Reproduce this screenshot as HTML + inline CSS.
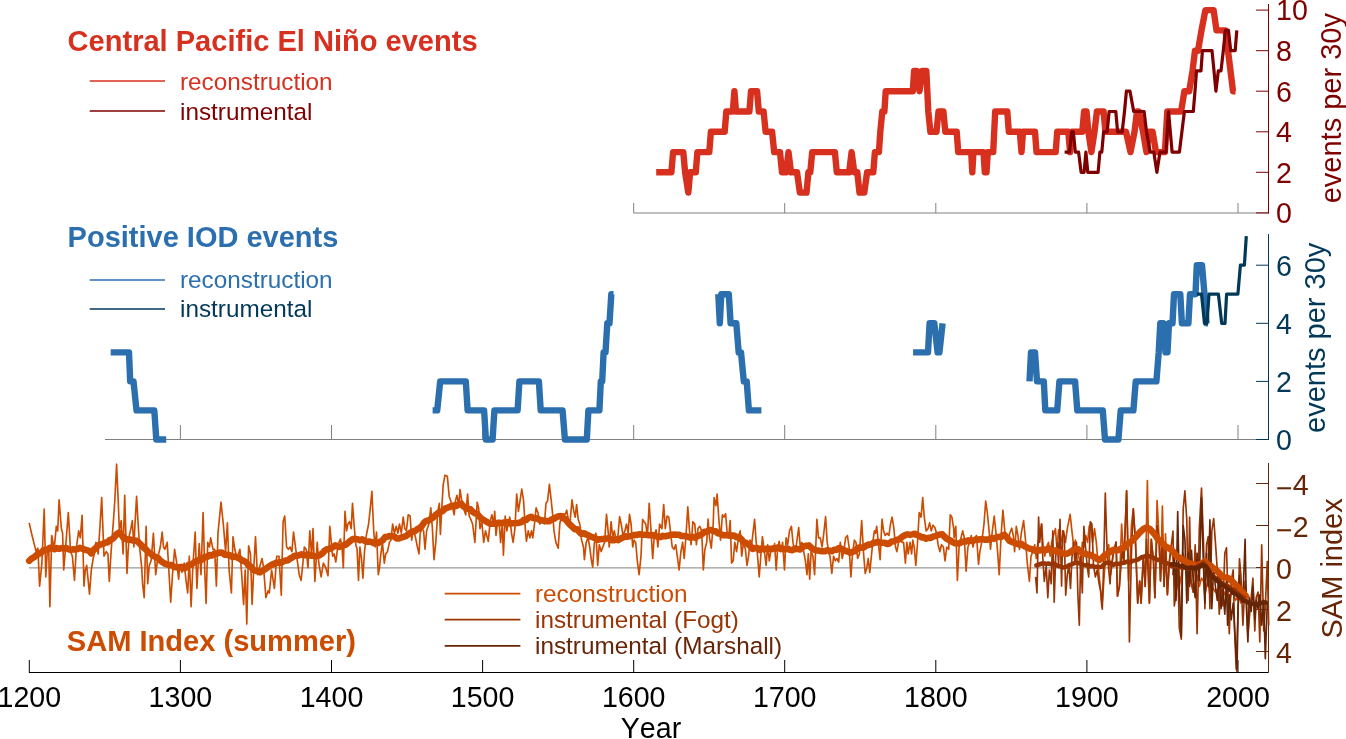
<!DOCTYPE html>
<html><head><meta charset="utf-8"><style>
html,body{margin:0;padding:0;background:#fff;width:1346px;height:739px;overflow:hidden}
svg{display:block;will-change:transform} text{font-kerning:none}
</style></head><body>
<svg width="1346" height="739" viewBox="0 0 1346 739">
<line x1="633.5" y1="213" x2="1268.5" y2="213" stroke="#808080" stroke-width="1"/>
<line x1="633.7" y1="203" x2="633.7" y2="213" stroke="#808080" stroke-width="1"/>
<line x1="784.7" y1="203" x2="784.7" y2="213" stroke="#808080" stroke-width="1"/>
<line x1="935.8" y1="203" x2="935.8" y2="213" stroke="#808080" stroke-width="1"/>
<line x1="1086.9" y1="203" x2="1086.9" y2="213" stroke="#808080" stroke-width="1"/>
<line x1="1238.0" y1="203" x2="1238.0" y2="213" stroke="#808080" stroke-width="1"/>
<line x1="1268.5" y1="4" x2="1268.5" y2="213.5" stroke="#7f0000" stroke-width="1"/>
<line x1="1256" y1="212.9" x2="1268.5" y2="212.9" stroke="#7f0000" stroke-width="1"/>
<text x="1276" y="223.2" font-family="Liberation Sans, sans-serif" font-size="28.6" fill="#7f0000">0</text>
<line x1="1256" y1="172.3" x2="1268.5" y2="172.3" stroke="#7f0000" stroke-width="1"/>
<text x="1276" y="182.6" font-family="Liberation Sans, sans-serif" font-size="28.6" fill="#7f0000">2</text>
<line x1="1256" y1="131.8" x2="1268.5" y2="131.8" stroke="#7f0000" stroke-width="1"/>
<text x="1276" y="142.1" font-family="Liberation Sans, sans-serif" font-size="28.6" fill="#7f0000">4</text>
<line x1="1256" y1="91.2" x2="1268.5" y2="91.2" stroke="#7f0000" stroke-width="1"/>
<text x="1276" y="101.5" font-family="Liberation Sans, sans-serif" font-size="28.6" fill="#7f0000">6</text>
<line x1="1256" y1="50.7" x2="1268.5" y2="50.7" stroke="#7f0000" stroke-width="1"/>
<text x="1276" y="61.0" font-family="Liberation Sans, sans-serif" font-size="28.6" fill="#7f0000">8</text>
<line x1="1256" y1="10.1" x2="1268.5" y2="10.1" stroke="#7f0000" stroke-width="1"/>
<text x="1276" y="20.4" font-family="Liberation Sans, sans-serif" font-size="28.6" fill="#7f0000">10</text>
<text transform="translate(1341.3,108.2) rotate(-90)" text-anchor="middle" font-family="Liberation Sans, sans-serif" font-size="29" fill="#7f0000">events per 30y</text>
<line x1="105" y1="439.5" x2="1268.5" y2="439.5" stroke="#808080" stroke-width="1"/>
<line x1="180.4" y1="425" x2="180.4" y2="439.5" stroke="#808080" stroke-width="1"/>
<line x1="331.5" y1="425" x2="331.5" y2="439.5" stroke="#808080" stroke-width="1"/>
<line x1="482.6" y1="425" x2="482.6" y2="439.5" stroke="#808080" stroke-width="1"/>
<line x1="633.7" y1="425" x2="633.7" y2="439.5" stroke="#808080" stroke-width="1"/>
<line x1="784.7" y1="425" x2="784.7" y2="439.5" stroke="#808080" stroke-width="1"/>
<line x1="935.8" y1="425" x2="935.8" y2="439.5" stroke="#808080" stroke-width="1"/>
<line x1="1086.9" y1="425" x2="1086.9" y2="439.5" stroke="#808080" stroke-width="1"/>
<line x1="1238.0" y1="425" x2="1238.0" y2="439.5" stroke="#808080" stroke-width="1"/>
<line x1="1268.5" y1="234" x2="1268.5" y2="440" stroke="#023858" stroke-width="1"/>
<line x1="1256" y1="439.5" x2="1268.5" y2="439.5" stroke="#023858" stroke-width="1"/>
<text x="1276" y="449.8" font-family="Liberation Sans, sans-serif" font-size="28.6" fill="#023858">0</text>
<line x1="1256" y1="381.4" x2="1268.5" y2="381.4" stroke="#023858" stroke-width="1"/>
<text x="1276" y="391.7" font-family="Liberation Sans, sans-serif" font-size="28.6" fill="#023858">2</text>
<line x1="1256" y1="323.3" x2="1268.5" y2="323.3" stroke="#023858" stroke-width="1"/>
<text x="1276" y="333.6" font-family="Liberation Sans, sans-serif" font-size="28.6" fill="#023858">4</text>
<line x1="1256" y1="265.2" x2="1268.5" y2="265.2" stroke="#023858" stroke-width="1"/>
<text x="1276" y="275.5" font-family="Liberation Sans, sans-serif" font-size="28.6" fill="#023858">6</text>
<text transform="translate(1325,337.8) rotate(-90)" text-anchor="middle" font-family="Liberation Sans, sans-serif" font-size="29" fill="#023858">events per 30y</text>
<line x1="29" y1="567.9" x2="1268.5" y2="567.9" stroke="#999999" stroke-width="1.3"/>
<line x1="1268.5" y1="463" x2="1268.5" y2="672.5" stroke="#662506" stroke-width="1"/>
<line x1="1256" y1="483.5" x2="1268.5" y2="483.5" stroke="#662506" stroke-width="1"/>
<text x="1276" y="494.5" font-family="Liberation Sans, sans-serif" font-size="28.6" fill="#662506"><tspan dy="3.4">−</tspan><tspan dy="-3.4">4</tspan></text>
<line x1="1256" y1="525.5" x2="1268.5" y2="525.5" stroke="#662506" stroke-width="1"/>
<text x="1276" y="536.5" font-family="Liberation Sans, sans-serif" font-size="28.6" fill="#662506"><tspan dy="3.4">−</tspan><tspan dy="-3.4">2</tspan></text>
<line x1="1256" y1="567.5" x2="1268.5" y2="567.5" stroke="#662506" stroke-width="1"/>
<text x="1276" y="578.5" font-family="Liberation Sans, sans-serif" font-size="28.6" fill="#662506">0</text>
<line x1="1256" y1="609.5" x2="1268.5" y2="609.5" stroke="#662506" stroke-width="1"/>
<text x="1276" y="620.5" font-family="Liberation Sans, sans-serif" font-size="28.6" fill="#662506">2</text>
<line x1="1256" y1="651.5" x2="1268.5" y2="651.5" stroke="#662506" stroke-width="1"/>
<text x="1276" y="662.5" font-family="Liberation Sans, sans-serif" font-size="28.6" fill="#662506">4</text>
<text transform="translate(1341.5,568.4) rotate(-90)" text-anchor="middle" font-family="Liberation Sans, sans-serif" font-size="29" fill="#662506">SAM index</text>
<line x1="29" y1="672.5" x2="1268.5" y2="672.5" stroke="#000" stroke-width="1"/>
<line x1="29.3" y1="660" x2="29.3" y2="672.5" stroke="#000" stroke-width="1"/>
<text x="29.3" y="706.7" text-anchor="middle" font-family="Liberation Sans, sans-serif" font-size="28.6" fill="#000">1200</text>
<line x1="180.4" y1="660" x2="180.4" y2="672.5" stroke="#000" stroke-width="1"/>
<text x="180.4" y="706.7" text-anchor="middle" font-family="Liberation Sans, sans-serif" font-size="28.6" fill="#000">1300</text>
<line x1="331.5" y1="660" x2="331.5" y2="672.5" stroke="#000" stroke-width="1"/>
<text x="331.5" y="706.7" text-anchor="middle" font-family="Liberation Sans, sans-serif" font-size="28.6" fill="#000">1400</text>
<line x1="482.6" y1="660" x2="482.6" y2="672.5" stroke="#000" stroke-width="1"/>
<text x="482.6" y="706.7" text-anchor="middle" font-family="Liberation Sans, sans-serif" font-size="28.6" fill="#000">1500</text>
<line x1="633.7" y1="660" x2="633.7" y2="672.5" stroke="#000" stroke-width="1"/>
<text x="633.7" y="706.7" text-anchor="middle" font-family="Liberation Sans, sans-serif" font-size="28.6" fill="#000">1600</text>
<line x1="784.7" y1="660" x2="784.7" y2="672.5" stroke="#000" stroke-width="1"/>
<text x="784.7" y="706.7" text-anchor="middle" font-family="Liberation Sans, sans-serif" font-size="28.6" fill="#000">1700</text>
<line x1="935.8" y1="660" x2="935.8" y2="672.5" stroke="#000" stroke-width="1"/>
<text x="935.8" y="706.7" text-anchor="middle" font-family="Liberation Sans, sans-serif" font-size="28.6" fill="#000">1800</text>
<line x1="1086.9" y1="660" x2="1086.9" y2="672.5" stroke="#000" stroke-width="1"/>
<text x="1086.9" y="706.7" text-anchor="middle" font-family="Liberation Sans, sans-serif" font-size="28.6" fill="#000">1900</text>
<line x1="1238.0" y1="660" x2="1238.0" y2="672.5" stroke="#000" stroke-width="1"/>
<text x="1238.0" y="706.7" text-anchor="middle" font-family="Liberation Sans, sans-serif" font-size="28.6" fill="#000">2000</text>
<text x="651" y="737.8" text-anchor="middle" font-family="Liberation Sans, sans-serif" font-size="28.6" fill="#000">Year</text>
<text x="67.6" y="51.2" font-family="Liberation Sans, sans-serif" font-weight="bold" font-size="30.3" textLength="410" lengthAdjust="spacingAndGlyphs" fill="#d7301f">Central Pacific El Niño events</text>
<line x1="89.7" y1="81" x2="165" y2="81" stroke="#d7301f" stroke-width="1.7"/>
<line x1="89.7" y1="111" x2="165" y2="111" stroke="#7f0000" stroke-width="1.7"/>
<text x="180" y="89.6" font-family="Liberation Sans, sans-serif" font-size="24.3" fill="#d7301f">reconstruction</text>
<text x="180" y="119.6" font-family="Liberation Sans, sans-serif" font-size="24.3" fill="#7f0000">instrumental</text>
<text x="67.6" y="247.2" font-family="Liberation Sans, sans-serif" font-weight="bold" font-size="30.3" textLength="270.7" lengthAdjust="spacingAndGlyphs" fill="#2b6fae">Positive IOD events</text>
<line x1="89.7" y1="280" x2="165" y2="280" stroke="#2b6fae" stroke-width="1.7"/>
<line x1="89.7" y1="309" x2="165" y2="309" stroke="#023858" stroke-width="1.7"/>
<text x="180" y="288.2" font-family="Liberation Sans, sans-serif" font-size="24.3" fill="#2b6fae">reconstruction</text>
<text x="180" y="316.7" font-family="Liberation Sans, sans-serif" font-size="24.3" fill="#023858">instrumental</text>
<text x="66.8" y="651.4" font-family="Liberation Sans, sans-serif" font-weight="bold" font-size="30.3" textLength="289.2" lengthAdjust="spacingAndGlyphs" fill="#cc4c02">SAM Index (summer)</text>
<line x1="444.7" y1="593.7" x2="520.4" y2="593.7" stroke="#cc4c02" stroke-width="1.7"/>
<line x1="444.7" y1="619.7" x2="520.4" y2="619.7" stroke="#993404" stroke-width="1.7"/>
<line x1="444.7" y1="645.9" x2="520.4" y2="645.9" stroke="#662506" stroke-width="1.7"/>
<text x="535" y="601.7" font-family="Liberation Sans, sans-serif" font-size="24.3" fill="#cc4c02">reconstruction</text>
<text x="535" y="627.7" font-family="Liberation Sans, sans-serif" font-size="24.3" fill="#993404">instrumental (Fogt)</text>
<text x="535" y="653.9" font-family="Liberation Sans, sans-serif" font-size="24.3" fill="#662506">instrumental (Marshall)</text>
<polyline points="656.2,172.3 671.4,172.3 673.1,152.1 683.3,152.1 685.1,172.3 688.3,192.6 690.1,172.3 695.8,172.3 697.4,152.1 709.3,152.1 710.9,131.8 724.7,131.8 726.3,111.5 732.8,111.5 734.4,91.2 736.0,111.5 749.4,111.5 751.0,91.2 757.1,91.2 758.8,111.5 763.6,111.5 765.6,131.8 772.1,131.8 774.2,152.1 780.0,152.1 782.0,172.3 786.0,172.3 788.5,152.1 791.0,172.3 797.0,172.3 799.9,192.6 806.5,192.6 808.4,172.3 810.3,172.3 812.2,152.1 834.9,152.1 836.8,172.3 849.1,172.3 851.6,152.1 854.3,172.3 857.3,172.3 859.5,192.6 864.3,192.6 867.1,172.3 873.3,172.3 874.9,152.1 878.9,152.1 880.3,131.8 882.3,111.5 884.4,111.5 885.7,91.2 912.8,91.2 914.1,70.9 916.8,70.9 919.5,91.2 922.2,70.9 926.3,70.9 927.3,91.2 928.3,111.5 930.4,131.8 936.5,131.8 938.5,111.5 943.4,111.5 945.3,131.8 956.7,131.8 958.2,152.1 971.2,152.1 972.3,172.3 973.4,152.1 983.5,152.1 984.8,172.3 986.5,172.3 987.8,152.1 993.2,152.1 994.2,131.8 995.2,111.5 1007.3,111.5 1008.8,131.8 1019.8,131.8 1021.5,152.1 1023.0,131.8 1035.0,131.8 1036.5,152.1 1055.7,152.1 1057.2,131.8 1068.3,131.8 1070.1,152.1 1071.9,131.8 1082.3,131.8 1084.1,111.5 1086.5,111.5 1088.4,131.8 1091.4,152.1 1094.5,131.8 1096.9,111.5 1103.6,111.5 1105.4,131.8 1126.0,131.8 1130.5,152.1 1134.5,131.8 1137.0,111.5 1139.0,111.5 1143.0,131.8 1146.5,152.1 1149.0,131.8 1152.6,131.8 1156.0,152.1 1160.0,152.1 1164.9,152.1 1167.3,111.5 1181.1,111.5 1184.4,91.2 1189.2,91.2 1192.5,70.9 1195.0,50.7 1198.0,50.7 1201.5,30.4 1205.4,10.1 1213.6,10.1 1216.5,30.4 1225.5,30.4 1228.0,50.7 1230.5,70.9 1233.0,91.2 1235.5,91.2" fill="none" stroke="#d7301f" stroke-width="6.4" stroke-linejoin="round" stroke-linecap="butt"/>
<polyline points="1064.6,152.1 1069.5,152.1 1071.7,131.8 1073.4,131.8 1075.3,152.1 1078.6,152.1 1081.1,172.3 1084.1,172.3 1085.9,152.1 1087.8,172.3 1098.1,172.3 1099.9,152.1 1101.8,152.1 1103.6,131.8 1107.2,131.8 1109.1,111.5 1115.8,111.5 1117.6,131.8 1122.2,131.8 1124.5,111.5 1126.4,91.2 1130.0,91.2 1133.7,111.5 1144.1,111.5 1146.5,131.8 1150.2,152.1 1153.8,152.1 1156.9,172.3 1160.0,152.1 1166.0,152.1 1168.5,111.5 1172.1,152.1 1179.4,152.1 1181.9,131.8 1184.4,111.5 1193.3,111.5 1195.0,91.2 1196.5,70.9 1201.0,70.9 1202.4,50.7 1212.0,50.7 1214.0,70.9 1215.9,91.2 1218.3,70.9 1221.0,70.9 1223.3,50.7 1225.4,30.4 1228.5,30.4 1230.7,50.7 1235.2,50.7 1236.8,30.4" fill="none" stroke="#7f0000" stroke-width="3.2" stroke-linejoin="round" stroke-linecap="butt"/>
<polyline points="110.7,352.4 129.0,352.4 130.2,381.4 133.5,381.4 136.5,410.4 154.3,410.4 156.3,439.5 166.2,439.5" fill="none" stroke="#2b6fae" stroke-width="6.4" stroke-linejoin="round" stroke-linecap="butt"/>
<polyline points="432.6,410.4 437.2,410.4 440.2,381.4 465.8,381.4 467.6,410.4 484.1,410.4 485.9,439.5 492.6,439.5 494.4,410.4 517.6,410.4 519.4,381.4 538.9,381.4 540.7,410.4 562.6,410.4 564.9,439.5 586.8,439.5 588.4,410.4 599.4,410.4 600.8,381.4 602.2,381.4 603.6,352.4 605.5,352.4 607.3,323.3 609.5,323.3 611.3,294.2 613.5,294.2" fill="none" stroke="#2b6fae" stroke-width="6.4" stroke-linejoin="round" stroke-linecap="butt"/>
<polyline points="718.3,294.2 719.8,323.3 721.3,294.2 728.8,294.2 730.6,323.3 736.3,323.3 738.7,352.4 741.0,352.4 743.8,381.4 746.7,381.4 748.9,410.4 761.4,410.4" fill="none" stroke="#2b6fae" stroke-width="6.4" stroke-linejoin="round" stroke-linecap="butt"/>
<polyline points="913.1,352.4 928.0,352.4 929.6,323.3 934.3,323.3 937.6,352.4 939.4,352.4 942.6,323.3" fill="none" stroke="#2b6fae" stroke-width="6.4" stroke-linejoin="round" stroke-linecap="butt"/>
<polyline points="1029.5,381.4 1031.0,352.4 1035.0,352.4 1037.0,381.4 1043.8,381.4 1045.3,410.4 1057.2,410.4 1059.4,381.4 1075.1,381.4 1077.3,410.4 1102.8,410.4 1105.0,439.5 1118.4,439.5 1120.7,410.4 1133.4,410.4 1135.7,381.4 1156.4,381.4 1158.7,352.4 1160.3,323.3 1163.3,323.3 1165.5,352.4 1167.5,352.4 1169.0,323.3 1172.5,323.3 1174.0,294.2 1180.3,294.2 1181.9,323.3 1188.4,323.3 1190.0,294.2 1195.5,294.2 1196.8,265.2 1202.0,265.2 1204.5,294.2 1206.5,323.3 1208.0,323.3" fill="none" stroke="#2b6fae" stroke-width="6.4" stroke-linejoin="round" stroke-linecap="butt"/>
<polyline points="1196.9,294.2 1201.5,294.2 1204.5,323.3 1207.0,323.3 1209.0,294.2 1218.4,294.2 1221.7,323.3 1225.0,323.3 1226.6,294.2 1237.9,294.2 1240.4,265.2 1244.4,265.2 1246.3,236.2" fill="none" stroke="#023858" stroke-width="3.2" stroke-linejoin="round" stroke-linecap="butt"/>
<polyline points="29.2,522.9 31.5,533.2 33.8,542.4 36.1,551.6 37.9,548.2 39.6,586.1 41.9,563.1 44.2,509.1 45.8,576.9 47.1,553.9 48.8,551.6 49.9,606.8 51.7,535.5 53.4,544.7 54.5,545.9 56.3,526.3 57.7,530.9 59.1,499.9 61.4,528.6 62.6,533.2 63.7,570.0 66.0,542.4 68.3,512.5 70.6,551.6 72.4,556.2 74.5,580.4 76.4,547.0 78.7,530.9 80.3,537.8 82.1,515.3 84.0,586.1 85.3,570.0 86.7,565.4 89.5,594.2 91.3,570.0 93.2,558.5 94.8,551.6 95.9,542.4 98.2,553.9 100.1,524.0 101.7,497.6 104.0,556.2 106.3,551.6 107.9,553.9 109.3,581.5 111.1,551.6 113.2,524.0 114.8,501.0 116.6,464.2 118.2,501.0 119.4,530.9 121.2,520.6 123.1,553.9 124.7,495.3 127.0,573.5 128.1,551.6 129.3,535.5 130.9,528.6 132.3,520.6 133.9,547.0 135.0,524.0 136.6,496.4 138.0,521.7 139.6,547.0 141.5,565.4 142.6,583.8 144.2,597.6 146.1,526.3 147.7,583.8 149.3,565.4 151.1,560.8 153.4,533.2 155.7,574.6 158.0,556.2 160.3,547.0 162.2,532.1 163.5,547.0 164.9,549.3 167.2,542.4 169.1,574.6 170.7,602.2 172.5,574.6 174.6,549.3 176.4,560.8 178.7,579.2 179.6,565.4 181.9,572.3 184.2,563.1 186.0,580.4 187.7,593.0 189.3,556.2 191.1,606.8 192.9,565.4 195.2,532.1 196.9,588.4 199.2,543.6 201.0,574.6 203.1,512.5 204.9,574.6 206.1,603.4 207.7,542.4 209.5,547.0 210.7,537.8 213.0,549.3 214.6,549.3 216.4,586.1 218.0,533.2 221.0,502.2 223.3,524.0 225.6,551.6 227.4,522.9 229.1,570.0 231.4,593.0 233.0,536.7 234.8,549.3 237.1,558.5 239.9,549.3 241.7,574.6 243.6,604.5 245.2,570.0 246.8,624.1 248.6,545.9 250.5,553.9 252.1,604.5 253.7,570.0 255.5,536.7 257.4,574.6 260.1,565.4 262.0,558.5 263.6,567.7 265.9,597.6 268.2,590.7 269.3,593.0 271.6,570.0 274.4,588.4 276.7,556.2 279.0,556.2 281.3,595.3 283.1,521.7 284.7,516.0 286.6,547.0 288.4,549.3 290.0,547.0 291.9,551.6 293.5,532.1 295.8,549.3 299.2,574.6 301.1,580.4 302.9,563.1 304.3,547.0 306.1,549.3 308.0,567.7 309.8,530.9 311.6,556.2 313.0,528.6 314.9,581.5 317.2,542.4 318.8,563.1 321.1,576.9 323.4,563.1 325.7,567.7 328.0,575.8 329.8,526.3 332.6,556.2 334.1,553.9 335.8,562.0 338.1,544.7 340.4,539.0 342.0,547.0 343.3,567.7 345.0,511.4 346.6,530.9 347.9,524.0 349.6,521.7 351.2,528.6 352.5,503.3 354.2,526.3 355.8,544.7 357.1,549.3 358.5,580.4 359.9,547.0 361.5,558.5 362.9,578.1 364.5,551.6 366.3,535.5 368.6,524.0 370.3,507.9 371.9,491.3 373.7,530.9 375.1,547.0 376.5,532.1 378.3,574.6 379.5,567.7 380.6,556.2 382.4,542.4 384.3,563.1 385.7,553.9 387.5,551.6 389.4,542.4 391.0,540.1 392.6,524.0 394.4,533.2 396.3,526.3 397.9,533.2 399.5,524.0 401.3,533.2 403.2,517.1 404.8,528.6 406.4,530.9 408.2,514.8 410.1,516.0 411.7,540.1 413.3,528.6 415.6,537.8 417.4,547.0 419.0,553.9 420.2,533.2 422.0,528.6 423.6,530.9 425.0,549.3 426.6,530.9 428.9,524.0 430.8,507.9 432.4,528.6 434.0,559.7 435.8,542.4 437.7,512.5 439.3,503.3 440.4,534.4 441.8,507.9 443.2,484.9 445.0,475.2 447.3,476.2 449.2,496.4 450.8,501.0 451.9,504.5 454.2,514.8 455.4,501.0 457.0,495.3 458.8,505.6 460.0,489.5 461.6,499.9 463.4,507.9 465.7,514.8 467.6,494.1 469.2,516.0 470.8,519.4 472.6,524.0 474.9,542.4 477.2,502.2 478.6,507.9 480.0,528.6 481.8,521.7 483.7,542.4 485.5,530.9 488.3,541.3 490.1,521.7 491.9,514.8 493.7,524.0 494.7,511.4 496.0,535.5 497.7,521.7 499.3,524.0 500.6,542.4 502.3,524.0 503.4,555.1 505.2,516.0 506.9,530.9 508.5,521.7 509.8,517.1 511.5,533.2 513.1,542.4 514.9,528.6 516.7,494.1 518.4,511.4 520.0,501.0 521.8,489.0 523.6,501.0 525.3,528.6 526.4,541.3 528.2,530.9 529.9,537.8 531.5,530.9 532.8,537.8 534.5,524.0 536.1,507.9 537.9,512.5 539.8,524.0 541.4,521.7 543.0,521.7 544.4,524.0 546.0,503.3 547.6,501.0 549.4,484.4 551.3,501.0 552.9,517.1 554.0,530.9 555.9,542.4 558.2,548.2 559.8,524.0 561.4,516.0 563.2,513.7 565.1,514.8 566.7,510.2 568.3,519.4 570.1,521.7 572.0,499.9 573.6,510.2 575.2,517.1 576.6,504.5 578.2,519.4 579.8,524.0 581.6,540.1 583.5,547.0 584.4,559.7 586.2,542.4 588.1,537.8 589.7,547.0 591.3,559.7 592.7,567.3 594.3,543.6 595.9,533.2 597.7,565.4 599.3,544.7 601.2,551.6 602.8,547.0 604.6,542.4 606.5,514.4 608.1,530.9 609.2,547.0 611.1,521.7 612.7,537.8 614.3,530.9 616.1,540.1 618.0,535.5 619.6,516.7 621.2,524.0 623.0,535.5 624.9,530.9 626.5,524.0 628.1,533.2 629.5,514.4 631.1,524.0 632.7,547.0 634.1,540.1 635.7,542.4 637.3,560.8 639.1,574.6 641.0,556.2 642.6,519.4 644.1,521.7 645.8,524.0 647.4,536.7 649.2,503.3 651.0,530.9 652.7,558.5 654.3,535.5 656.1,529.8 657.9,547.0 659.6,524.0 661.9,528.6 663.7,504.5 665.3,528.6 667.1,516.0 668.8,517.1 670.4,530.9 672.2,547.0 674.0,549.3 675.7,544.7 677.3,556.2 679.1,570.0 680.9,551.6 682.6,542.4 684.2,558.5 686.0,535.5 687.8,506.8 689.5,530.9 691.1,544.7 692.9,521.7 694.8,524.0 696.4,544.7 698.0,528.6 699.8,526.3 701.7,530.9 703.3,570.0 704.9,549.3 706.7,542.4 708.1,519.0 709.5,537.8 711.3,548.2 713.2,524.0 714.1,497.6 715.9,505.6 717.1,494.1 718.7,517.1 720.5,540.1 722.4,514.8 724.0,517.1 725.6,513.7 727.0,530.9 728.6,537.8 730.2,520.6 731.6,563.1 733.2,560.8 734.8,542.4 736.6,551.6 738.5,537.8 740.1,530.9 741.7,556.2 743.5,542.4 745.4,549.3 747.0,565.4 748.6,556.2 750.0,540.1 751.6,544.7 754.6,519.4 756.2,542.4 757.8,558.5 759.2,576.9 760.8,556.2 762.4,536.7 764.2,549.3 766.1,565.4 767.7,544.7 769.3,560.8 771.1,549.3 773.0,551.6 774.6,543.6 776.2,570.0 777.6,549.3 779.2,541.3 780.8,551.6 782.6,542.4 784.5,570.0 786.1,537.8 787.7,544.7 789.5,530.9 791.4,526.3 793.0,542.4 794.6,551.6 796.4,544.7 798.7,527.5 800.1,544.7 801.9,542.4 803.7,551.6 805.4,560.8 807.0,574.6 808.3,553.9 809.7,579.2 811.1,551.6 812.9,556.2 814.6,574.6 816.9,519.4 818.5,537.8 820.3,537.8 822.1,547.0 823.8,533.2 825.6,516.7 827.2,542.4 829.0,553.9 830.0,556.2 831.8,573.5 833.6,556.2 835.3,560.8 836.9,558.5 838.7,562.0 840.3,542.4 842.2,558.5 843.8,551.6 845.6,537.8 847.4,535.5 849.1,547.0 850.9,576.9 852.5,553.9 854.4,540.1 856.0,542.4 857.6,558.5 859.4,553.9 861.7,520.6 863.6,553.9 865.2,573.5 866.8,567.7 868.2,558.5 869.8,572.3 871.4,556.2 872.8,542.4 874.4,530.9 875.5,533.2 876.7,526.3 878.3,542.4 880.1,559.7 882.0,519.0 883.6,530.9 885.2,535.5 887.0,533.2 888.9,535.5 890.5,524.0 892.1,517.1 893.9,528.6 895.5,547.0 896.9,551.6 898.5,542.4 900.4,537.8 902.0,542.4 903.6,542.4 905.4,563.1 906.8,542.4 908.2,553.9 910.0,542.4 911.6,553.9 912.8,540.1 914.2,547.0 915.8,565.4 917.4,544.7 919.2,512.5 921.1,517.1 922.7,497.6 924.3,517.1 926.1,530.9 928.0,528.6 929.6,522.9 931.2,530.9 933.0,525.2 934.9,527.5 936.5,533.2 938.1,544.7 939.9,551.6 941.5,544.7 943.4,547.0 945.0,560.8 946.8,547.0 948.7,549.3 950.3,514.8 951.9,517.1 953.7,528.6 954.1,537.8 955.8,526.3 957.4,580.4 959.2,544.7 961.0,537.8 962.7,530.9 964.3,537.8 966.1,571.2 967.9,547.0 969.6,542.4 971.2,535.5 973.0,547.0 974.8,537.8 976.5,535.5 978.5,564.3 979.9,551.6 981.7,542.4 984.0,524.0 985.7,501.0 987.3,512.5 989.1,530.9 990.5,549.3 992.1,533.2 994.2,516.0 996.0,533.2 997.6,551.6 999.2,574.6 1001.1,535.5 1002.9,510.2 1004.8,530.9 1006.4,535.5 1008.0,542.4 1009.8,533.2 1011.7,528.2 1013.3,535.5 1014.6,551.6 1016.3,526.3 1017.9,535.5 1019.5,549.3 1021.3,533.2 1023.6,520.6 1025.5,540.1 1027.3,563.1 1029.4,581.5 1031.0,556.2 1032.8,551.6 1034.7,544.7 1036.3,558.5 1037.9,542.4 1039.7,535.5 1041.6,524.0 1043.2,547.0 1044.8,556.2 1046.6,547.0 1048.5,542.4 1050.1,556.2 1051.7,542.4 1053.5,535.5 1055.4,528.6 1057.0,549.3 1058.6,529.8 1060.4,542.4 1062.0,537.8 1063.6,530.9 1065.5,542.4 1067.3,528.6 1068.7,521.7 1070.1,514.4 1071.9,530.9 1073.8,547.0 1075.4,540.1 1077.0,551.6 1078.8,556.2 1080.7,570.0 1082.3,542.4 1083.9,547.0 1085.7,535.5 1087.6,542.4 1089.2,526.3 1090.8,524.0 1092.6,542.4 1094.5,528.6 1096.3,542.4 1098.4,567.7 1100.0,583.8 1101.8,606.8 1103.0,593.0 1104.6,570.0 1106.4,551.6 1108.7,544.7 1110.5,575.4 1113.3,553.2 1116.1,542.1 1117.5,596.2 1119.4,586.5 1121.6,524.1 1123.9,561.5 1126.6,490.8 1128.6,581.0 1130.0,561.5 1131.4,525.5 1133.3,508.8 1135.5,542.1 1137.7,603.1 1139.7,581.0 1141.1,603.1 1143.3,556.0 1145.2,586.5 1147.4,480.5 1149.4,603.1 1151.3,539.3 1153.5,561.5 1154.9,597.6 1157.1,500.5 1159.1,539.3 1160.5,581.0 1162.4,506.1 1164.1,586.5 1165.5,533.8 1167.4,594.8 1169.4,561.5 1171.0,547.7 1173.0,558.8 1174.3,581.0 1176.0,594.8 1177.7,567.1 1179.3,586.5 1181.3,575.4 1183.2,553.2 1184.9,561.5 1186.8,575.4 1188.2,586.5 1189.6,561.5 1191.0,581.0 1193.2,592.1 1195.2,581.0 1197.1,575.4 1199.3,586.5 1201.5,578.2 1203.5,581.0 1204.9,594.8 1206.5,586.5 1208.2,581.0 1209.9,594.8 1211.8,586.5 1213.7,589.3 1215.4,592.1 1217.3,589.3 1219.3,600.4 1221.0,592.1 1222.9,597.6 1224.8,592.1 1226.5,597.6 1227.6,589.3 1229.3,600.4 1231.2,594.8 1233.2,592.1 1235.4,600.4 1237.0,597.6 1238.1,600.4 1239.5,597.6 1240.9,603.1 1242.9,600.4 1245.1,597.6" fill="none" stroke="#cc4c02" stroke-width="1.65" stroke-linejoin="round"/>
<polyline points="1035.6,576.9 1037.0,593.0 1038.6,517.1 1039.7,542.4 1041.6,524.0 1042.7,556.2 1044.3,581.5 1046.2,565.4 1047.8,597.6 1049.4,570.0 1051.2,583.8 1052.8,530.9 1054.2,602.2 1055.8,553.9 1057.4,542.4 1058.6,565.4 1060.0,519.4 1061.6,586.1 1062.7,530.9 1064.3,535.5 1065.7,595.3 1067.3,574.6 1068.9,565.4 1070.5,588.4 1071.9,558.5 1073.5,542.4 1074.9,563.1 1076.5,542.4 1077.9,595.3 1079.3,625.2 1080.7,556.2 1082.3,593.0 1083.9,526.3 1085.7,549.3 1087.1,565.4 1088.7,576.9 1090.3,521.7 1091.9,524.0 1093.5,565.4 1095.4,576.9 1097.2,570.0 1099.1,583.8 1100.7,590.7 1102.3,609.1 1103.7,563.1 1105.3,493.0 1106.9,544.7 1108.7,570.0 1110.1,583.8 1110.5,575.4 1113.3,553.2 1116.1,542.1 1117.5,596.2 1119.4,586.5 1122.2,550.4 1123.9,561.5 1126.6,490.8 1128.6,581.0 1129.4,642.0 1131.4,553.2 1133.3,508.8 1135.5,542.1 1137.7,603.1 1139.7,581.0 1141.1,603.1 1143.3,556.0 1145.2,586.5 1146.6,539.3 1149.4,603.1 1151.3,539.3 1153.5,561.5 1154.9,597.6 1157.1,525.5 1159.1,539.3 1160.5,581.0 1162.4,539.3 1164.1,586.5 1165.5,547.7 1167.4,594.8 1169.4,561.5 1171.0,547.7 1173.0,531.0 1174.3,605.9 1176.0,594.8 1177.7,567.1 1179.3,628.1 1181.3,639.2 1183.2,508.8 1184.9,490.8 1186.8,519.9 1188.2,600.4 1189.6,517.2 1191.0,581.0 1193.2,592.1 1195.2,544.9 1197.1,633.7 1199.3,528.3 1201.5,488.0 1203.5,542.1 1204.9,608.7 1206.5,544.9 1208.2,536.6 1209.9,608.7 1211.8,531.0 1213.7,518.5 1215.4,542.1 1217.3,569.9 1219.3,614.2 1221.0,575.4 1222.9,605.9 1224.8,553.2 1226.5,547.7 1227.6,586.5 1229.3,633.7 1231.2,581.0 1233.2,569.9 1234.5,628.1 1236.2,669.2 1237.9,614.2 1239.5,558.8 1240.9,575.4 1242.9,625.3 1245.1,581.0 1246.5,603.1 1247.9,636.4 1249.2,619.8 1251.2,597.6 1252.9,578.2 1254.8,630.9 1256.2,597.6 1258.1,592.1 1259.8,642.0 1261.7,544.9 1263.7,630.9 1265.3,605.9 1267.3,561.5 1268.7,625.3" fill="none" stroke="#993404" stroke-width="1.65" stroke-linejoin="round"/>
<polyline points="1173.0,575.4 1174.3,553.2 1176.0,600.4 1177.7,511.6 1179.3,586.5 1181.3,636.4 1183.2,525.5 1184.9,539.3 1186.8,603.1 1188.2,553.2 1189.6,586.5 1191.5,550.4 1193.2,581.0 1195.2,597.6 1197.1,553.2 1199.3,581.0 1201.5,497.7 1203.5,567.1 1204.9,603.1 1206.5,553.2 1208.2,586.5 1209.9,519.9 1211.8,608.7 1213.7,567.1 1215.4,586.5 1217.3,600.4 1219.3,575.4 1221.0,608.7 1222.9,589.3 1224.8,614.2 1226.5,581.0 1227.6,625.3 1229.3,594.8 1231.2,619.8 1233.2,603.1 1235.4,642.0 1237.0,671.1 1238.1,608.7 1239.5,575.4 1240.9,597.6 1242.9,600.4 1245.1,539.3 1246.5,608.7 1247.9,642.0 1249.2,597.6 1251.2,611.5 1252.9,586.5 1254.8,619.8 1256.2,600.4 1258.1,608.7 1259.8,594.8 1261.7,625.3 1263.7,600.4 1265.3,658.6 1267.3,603.1" fill="none" stroke="#662506" stroke-width="1.65" stroke-linejoin="round"/>
<polyline points="29.2,560.8 31.5,558.6 33.8,557.4 36.1,555.4 38.4,554.1 40.7,553.0 43.0,550.8 45.3,549.6 47.6,549.9 49.9,547.7 52.2,547.7 54.5,549.1 56.8,548.1 59.1,548.8 61.4,548.1 63.7,548.6 66.0,548.0 68.3,549.1 70.6,549.8 72.9,549.4 75.2,549.5 77.5,549.1 79.8,547.7 82.1,548.6 84.4,549.5 86.7,550.1 89.0,550.8 91.3,553.4 93.6,550.0 95.9,547.8 98.2,545.4 100.5,544.4 102.8,544.1 105.1,542.5 107.4,542.5 109.7,540.1 112.0,539.2 114.3,537.3 116.6,534.2 118.9,532.6 121.2,534.6 123.5,537.9 125.8,538.9 128.1,539.7 130.4,539.5 132.7,540.4 135.0,540.6 137.3,541.0 139.6,543.5 141.9,545.6 144.2,548.2 146.5,549.9 148.8,552.4 151.1,554.0 153.4,556.0 155.7,557.1 158.0,557.9 160.3,560.6 162.6,562.2 164.9,563.6 167.2,564.4 169.5,565.3 171.8,565.1 174.1,566.9 176.4,567.2 178.7,567.3 181.5,566.9 184.2,568.4 186.5,567.5 188.8,564.7 191.1,564.8 193.4,563.0 195.7,561.3 198.0,560.4 200.3,560.2 202.6,559.2 204.9,556.8 207.2,557.0 209.5,555.1 211.8,555.5 214.5,553.6 217.2,553.5 219.9,552.5 222.4,552.8 225.0,554.8 227.6,554.7 230.2,555.5 232.5,557.0 234.8,556.5 237.1,557.4 239.4,558.4 241.7,560.3 244.0,561.0 246.3,562.3 248.6,565.7 250.9,566.6 253.2,569.7 255.5,570.7 257.8,571.0 260.1,572.3 262.4,570.8 264.7,569.5 267.0,567.9 269.3,566.3 271.6,564.9 273.9,563.9 276.2,562.8 278.5,562.4 280.8,562.7 283.1,561.5 285.4,560.5 287.7,560.5 290.0,558.6 292.3,557.5 294.6,555.7 296.9,555.7 299.2,555.2 301.5,554.2 303.8,555.3 306.1,555.3 308.4,554.3 310.7,555.6 313.0,555.6 315.3,556.3 317.6,556.0 319.9,555.1 322.2,553.6 324.5,550.8 326.8,549.3 329.1,548.9 331.4,547.9 335.1,545.4 339.2,546.9 341.5,546.4 343.8,545.2 346.1,544.5 348.4,542.5 350.7,540.6 353.0,539.1 355.3,538.9 357.6,539.3 359.9,540.3 362.2,539.3 364.5,540.8 366.8,541.7 369.1,541.5 371.4,541.9 373.7,543.3 376.0,542.7 378.3,543.0 380.6,541.5 382.9,540.1 385.2,537.1 387.5,536.7 389.8,536.0 392.1,536.1 394.4,536.6 396.7,538.5 399.0,538.4 401.3,537.5 403.6,536.9 405.9,536.2 408.2,534.3 410.5,532.7 412.8,531.4 415.1,531.0 417.4,529.2 419.7,528.0 422.0,525.8 424.3,522.3 426.6,520.9 428.9,520.3 431.2,518.5 433.5,517.3 435.8,514.9 438.1,513.0 440.4,511.8 442.7,511.1 445.0,508.6 447.3,507.8 449.6,506.9 451.9,505.9 454.2,505.5 456.5,506.0 458.8,504.2 461.1,503.6 463.4,506.4 465.7,507.4 468.0,508.8 470.3,509.3 472.6,511.8 474.9,513.3 477.2,513.9 479.5,516.8 481.8,518.9 484.6,520.5 487.3,522.1 490.1,523.6 494.2,523.7 496.5,523.2 498.8,522.7 501.1,523.3 503.4,522.5 505.7,523.4 508.0,522.0 510.3,523.6 512.6,523.2 514.9,523.3 517.2,523.0 519.5,522.7 521.8,521.9 524.1,519.7 526.4,519.9 528.7,517.7 531.0,516.8 533.3,518.0 535.6,518.3 537.9,518.7 540.2,520.2 542.5,520.4 544.8,520.7 547.1,521.3 549.4,521.2 551.7,519.4 554.0,518.8 556.3,517.2 558.6,516.2 560.9,516.0 563.2,518.4 565.5,519.2 567.8,522.2 570.1,524.8 572.4,526.9 574.7,529.2 577.0,529.3 579.3,531.9 581.6,533.9 583.9,533.3 586.2,534.5 588.5,535.4 590.8,536.7 593.1,537.4 595.4,538.3 597.7,539.8 600.0,539.2 602.3,539.0 604.6,538.9 606.9,538.6 609.2,538.2 611.5,540.1 613.8,540.2 616.1,539.1 618.4,540.1 620.7,538.6 623.0,537.5 625.3,536.4 627.6,536.6 629.9,536.2 632.2,535.6 634.5,535.0 637.2,534.9 639.8,534.3 642.5,534.8 645.1,534.8 649.2,535.3 651.5,535.0 653.8,535.5 656.1,536.1 658.4,536.9 660.7,536.9 663.0,535.9 665.3,536.3 667.6,535.7 669.9,535.1 672.2,534.7 674.5,534.6 676.8,534.7 679.1,534.8 681.4,535.9 683.7,536.0 686.0,536.2 688.3,537.0 690.6,537.6 692.9,536.8 695.2,537.7 697.5,536.1 699.8,535.4 702.1,534.0 704.4,531.8 706.7,531.6 709.0,530.3 711.3,530.1 713.6,531.2 715.9,531.4 718.2,533.4 720.5,533.9 722.8,535.1 725.1,535.2 727.4,535.2 729.7,535.6 732.0,535.6 734.3,535.6 736.6,537.2 738.9,536.9 741.2,539.1 743.5,542.1 745.8,542.7 748.1,544.4 750.4,545.9 752.7,548.9 755.0,548.0 757.3,548.1 759.6,549.9 761.9,548.3 764.2,549.4 766.5,548.8 768.8,548.8 771.1,549.0 773.4,548.3 775.7,548.7 778.0,547.3 780.3,548.9 782.6,548.8 784.9,549.4 787.2,548.6 789.8,549.8 792.4,550.1 795.0,548.5 797.5,549.0 800.1,549.4 801.9,547.6 804.2,546.2 806.5,545.7 808.8,545.4 811.1,547.6 813.4,549.4 815.7,550.3 818.0,550.6 820.3,551.0 822.6,551.3 824.9,551.2 827.2,550.3 829.5,550.8 831.8,551.3 834.1,549.7 836.4,549.8 838.7,548.1 841.0,548.5 843.3,549.8 845.6,550.8 847.9,551.6 850.2,552.7 852.5,551.9 854.8,551.2 857.1,548.7 859.4,547.4 861.7,547.8 864.0,547.2 866.3,545.6 868.6,544.6 870.9,544.5 873.2,543.0 875.5,542.6 877.8,541.9 880.1,542.9 882.4,542.7 884.7,542.8 887.0,543.9 889.3,543.5 891.6,541.5 893.9,541.3 896.2,540.0 898.5,539.6 900.8,538.0 903.1,536.2 905.4,535.0 907.7,534.4 910.0,534.9 912.3,534.4 914.6,533.8 916.9,535.0 919.2,535.8 921.5,537.4 923.8,537.2 926.1,538.7 928.4,537.8 930.7,538.0 933.0,536.6 935.3,536.1 937.6,534.9 939.9,534.5 942.2,534.3 944.5,536.7 946.8,538.8 949.1,539.9 952.1,541.7 955.1,543.2 959.2,543.5 961.5,542.2 963.8,541.4 966.1,541.4 968.4,540.4 970.7,540.9 973.0,540.8 975.3,539.7 977.6,539.6 979.9,539.4 982.2,539.0 984.5,539.6 986.8,539.6 989.1,539.4 991.4,537.9 993.7,538.8 996.0,537.5 998.7,536.9 1001.4,536.7 1004.1,534.8 1006.7,537.1 1009.4,540.7 1012.1,542.0 1014.4,542.7 1016.7,543.7 1019.0,544.5 1021.3,543.8 1023.6,545.6 1025.9,546.9 1028.2,548.1 1030.5,548.8 1032.8,549.8 1035.1,550.7 1037.4,550.0 1039.7,550.5 1042.0,549.5 1044.3,549.5 1046.6,549.9 1048.9,548.6 1051.2,550.6 1053.5,551.2 1055.8,550.3 1058.1,552.4 1060.4,552.0 1062.7,553.3 1065.0,553.8 1067.3,553.6 1070.0,552.3 1072.7,550.4 1075.4,548.7 1078.1,549.3 1080.7,551.7 1083.4,553.6 1085.7,553.9 1088.0,554.6 1090.3,554.7 1092.6,556.2 1094.9,557.1 1097.2,558.9 1099.5,560.0 1102.2,557.8 1104.8,555.1 1107.5,553.9 1110.1,551.9 1113.3,549.9 1116.1,550.7 1118.9,549.8 1121.6,548.4 1124.4,547.7 1127.2,544.2 1130.0,542.4 1132.7,540.3 1135.5,537.3 1139.7,532.5 1143.3,529.1 1146.6,527.6 1149.9,529.0 1152.4,531.8 1154.9,534.7 1157.7,538.8 1160.5,541.8 1163.3,544.4 1166.0,546.8 1168.8,548.2 1171.6,550.0 1174.3,553.0 1177.1,556.7 1179.9,557.9 1182.7,560.2 1185.4,561.1 1188.2,563.4 1191.0,563.6 1193.8,564.5 1196.5,565.5 1199.3,564.4 1202.1,563.4 1204.9,561.3 1207.6,564.5 1210.4,565.5 1213.2,568.1 1216.0,570.1 1218.7,572.4 1221.5,575.9 1224.3,577.2 1227.1,577.6 1229.8,579.0 1232.6,581.7 1235.4,584.6 1238.1,587.1 1240.7,590.2 1243.3,593.1 1245.9,596.2" fill="none" stroke="#cc4c02" stroke-width="6.6" stroke-linejoin="round" stroke-linecap="round"/>
<polyline points="1036.3,565.4 1039.1,564.5 1042.0,563.5 1044.3,563.6 1046.6,563.8 1048.9,563.5 1051.2,564.4 1053.5,563.5 1055.8,564.8 1058.1,566.1 1060.4,566.4 1062.7,567.6 1065.0,567.1 1067.3,566.5 1069.6,565.0 1071.9,564.3 1074.2,563.2 1076.5,562.6 1078.8,563.2 1081.1,563.6 1083.4,564.9 1085.7,565.3 1088.0,564.9 1090.3,566.5 1092.6,566.0 1094.9,567.1 1097.2,566.7 1099.5,566.9 1101.8,566.8 1104.1,564.2 1106.4,562.7 1110.1,562.7 1113.3,564.9 1116.1,563.5 1118.9,564.1 1121.6,563.0 1124.4,562.7 1127.2,561.5 1130.0,562.2 1132.7,560.9 1135.5,560.4 1138.3,559.4 1141.1,557.5 1143.8,556.7 1146.6,555.5 1149.4,556.3 1152.2,557.1 1154.9,558.4 1157.7,559.9 1160.5,559.8 1163.3,561.8 1166.0,562.7 1168.8,564.0 1171.6,566.2 1174.3,566.1 1177.1,566.3 1179.9,567.1 1182.7,567.9 1185.4,567.3 1188.2,569.2 1191.0,567.2 1193.8,567.9 1196.5,567.6 1198.9,564.9 1201.2,564.8 1203.5,562.7 1205.8,566.8 1208.1,569.5 1210.4,573.3 1212.6,575.2 1214.8,578.1 1217.1,578.5 1219.3,581.1 1221.5,583.0 1223.7,584.4 1225.9,584.9 1228.2,586.3 1230.4,587.9 1232.6,589.7 1234.8,590.3 1237.0,593.0 1239.3,594.7 1241.5,596.5 1243.7,597.6" fill="none" stroke="#993404" stroke-width="4.5" stroke-linejoin="round" stroke-linecap="round"/>
<polyline points="1171.6,564.3 1174.3,564.5 1177.1,564.7 1179.9,565.9 1182.7,565.9 1185.4,567.6 1188.2,568.3 1191.0,567.8 1193.8,568.5 1196.5,567.7 1199.3,567.0 1202.1,565.0 1206.2,566.4 1208.6,570.7 1210.9,575.0 1213.2,577.6 1216.0,579.6 1218.7,582.1 1221.5,584.4 1223.7,585.5 1225.9,586.9 1228.2,589.5 1230.4,589.7 1232.6,592.6 1234.8,593.4 1237.0,594.8 1239.3,596.4 1241.5,598.4 1243.7,600.9 1246.5,601.3 1249.2,603.3 1252.0,603.8 1254.8,603.9 1257.6,604.6 1260.3,603.2 1263.1,602.5 1265.9,602.6" fill="none" stroke="#662506" stroke-width="4.5" stroke-linejoin="round" stroke-linecap="round"/>
</svg>
</body></html>
